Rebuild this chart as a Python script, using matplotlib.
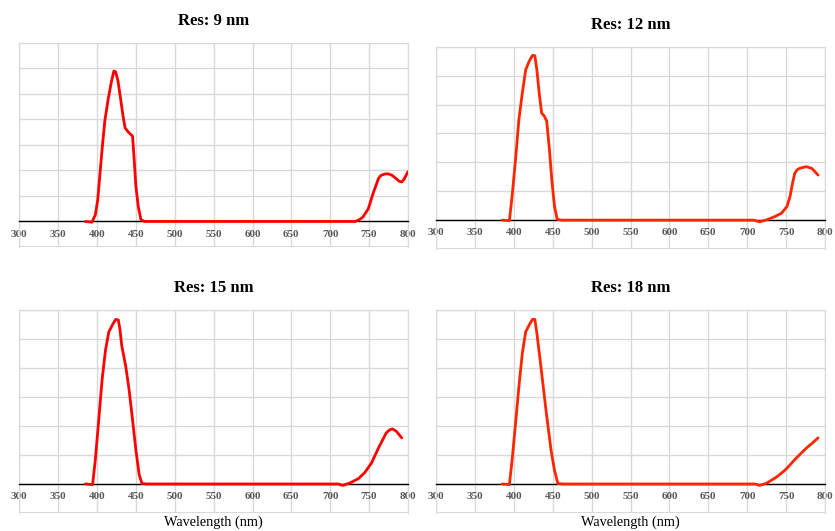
import matplotlib
matplotlib.use('Agg')
import matplotlib.pyplot as plt

# ---------------- data ----------------
titles = ['Res: 9 nm', 'Res: 12 nm', 'Res: 15 nm', 'Res: 18 nm']
x_ticks = [300, 350, 400, 450, 500, 550, 600, 650, 700, 750, 800]

wl_9 = [385, 393.5, 397.8, 400.9, 403.5, 406.5, 410, 414.3, 418.7, 421.7, 423.9, 427,
        430.4, 433.5, 436.1, 440.4, 445.7, 447.8, 450, 453, 456.5, 461,
        725, 732, 737, 742, 749, 755, 762, 765, 770, 774, 779, 784, 789, 792, 795, 800]
val_9 = [0, -0.03, 0.26, 0.85, 1.77, 2.82, 3.94, 4.79, 5.51, 5.9, 5.87, 5.51,
         4.79, 4.13, 3.67, 3.5, 3.35, 2.43, 1.38, 0.59, 0.07, 0,
         0, 0, 0.06, 0.17, 0.5, 1.09, 1.68, 1.8, 1.86, 1.87, 1.82, 1.7, 1.57, 1.55, 1.66, 1.95]

wl_12 = [385, 394.3, 397.8, 402.2, 406.5, 410.9, 415.2, 419.6, 423.9, 427, 429.6, 432.6,
         435.7, 439.1, 442.2, 445.7, 449.1, 452.2, 455.7, 461,
         708, 716, 725, 736, 744, 751, 755, 758, 761, 764, 768, 776, 783, 791]
val_12 = [0, -0.02, 0.84, 2.1, 3.48, 4.4, 5.2, 5.49, 5.7, 5.69, 5.2, 4.4,
          3.71, 3.6, 3.43, 2.45, 1.3, 0.49, 0.03, 0,
          0, -0.06, 0.01, 0.13, 0.24, 0.47, 0.82, 1.25, 1.62, 1.74, 1.8, 1.85, 1.79, 1.56]

wl_15 = [385, 394.3, 397.8, 402.2, 406.5, 410.9, 415.2, 419.6, 423.9, 427.4, 429.6, 431.7,
         437, 441.3, 445.7, 450, 454.3, 457.8, 463,
         710, 716, 725, 736, 744, 753, 762, 772, 776, 780, 785, 792]
val_15 = [0, -0.02, 0.83, 2.21, 3.59, 4.62, 5.25, 5.48, 5.68, 5.66, 5.31, 4.79,
          4.05, 3.24, 2.21, 1.17, 0.31, 0.02, 0,
          0, -0.05, 0.03, 0.18, 0.38, 0.72, 1.24, 1.76, 1.86, 1.9, 1.82, 1.59]

wl_18 = [385, 394.3, 397.8, 402.2, 406.5, 410.9, 415.2, 419.6, 423.9, 427, 429.6, 434.8,
         441.3, 447.8, 452.2, 456.5, 463,
         710, 716, 725, 736, 742, 749, 755, 761, 768, 776, 784, 791]
val_18 = [0, -0.02, 0.83, 2.09, 3.36, 4.51, 5.25, 5.48, 5.68, 5.68, 5.2, 4.05,
          2.55, 1.17, 0.48, 0.02, 0,
          0, -0.05, 0.03, 0.21, 0.33, 0.49, 0.66, 0.84, 1.03, 1.24, 1.42, 1.59]

series = [(wl_9, val_9), (wl_12, val_12), (wl_15, val_15), (wl_18, val_18)]
colors = ['#ff0000', '#ff2500', '#ff0000', '#ff2500']
y_tops = [7, 6, 6, 6]

# axes boxes [left, bottom, width, height] in figure fractions
boxes = [[0.0231, 0.535, 0.4655, 0.384],
         [0.5222, 0.531, 0.4659, 0.381],
         [0.0231, 0.034, 0.4655, 0.382],
         [0.5222, 0.034, 0.4659, 0.382]]

SERIF = ['Liberation Serif', 'DejaVu Serif']
GRID = '#d9d9d9'

fig = plt.figure(figsize=(8.35, 5.31), dpi=100)

for i in range(4):
    ax = fig.add_axes(boxes[i])
    wl, val = series[i]
    ax.plot(wl, val, color=colors[i], lw=2, solid_joinstyle='round',
            solid_capstyle='round', zorder=3)

    ax.set_xlim(300, 800)
    ax.set_ylim(-1, y_tops[i])
    ax.set_xticks(x_ticks)
    ax.set_yticks(range(-1, y_tops[i] + 1))
    ax.grid(True, color=GRID, lw=1)
    ax.set_axisbelow(True)

    for s in ['top', 'left', 'right']:
        ax.spines[s].set_color(GRID)
    ax.spines['bottom'].set_position(('data', 0))
    ax.spines['bottom'].set_color('black')
    ax.spines['bottom'].set_linewidth(1)
    ax.axhline(-1, color=GRID, lw=1.5)

    ax.tick_params(axis='both', length=0)
    ax.tick_params(axis='x', pad=6)
    ax.set_yticklabels([])
    ax.set_xticklabels([str(t) for t in x_ticks], family=SERIF, fontweight='bold',
                       color='#595959', fontsize=8)

    ax.set_title(titles[i], family=SERIF, fontweight='bold', fontsize=12, pad=13)
    if i >= 2:
        ax.text(0.5, -0.045, 'Wavelength (nm)', transform=ax.transAxes, ha='center',
                va='center', family=SERIF, fontsize=10.3)

fig.savefig('out.png', dpi=100)
